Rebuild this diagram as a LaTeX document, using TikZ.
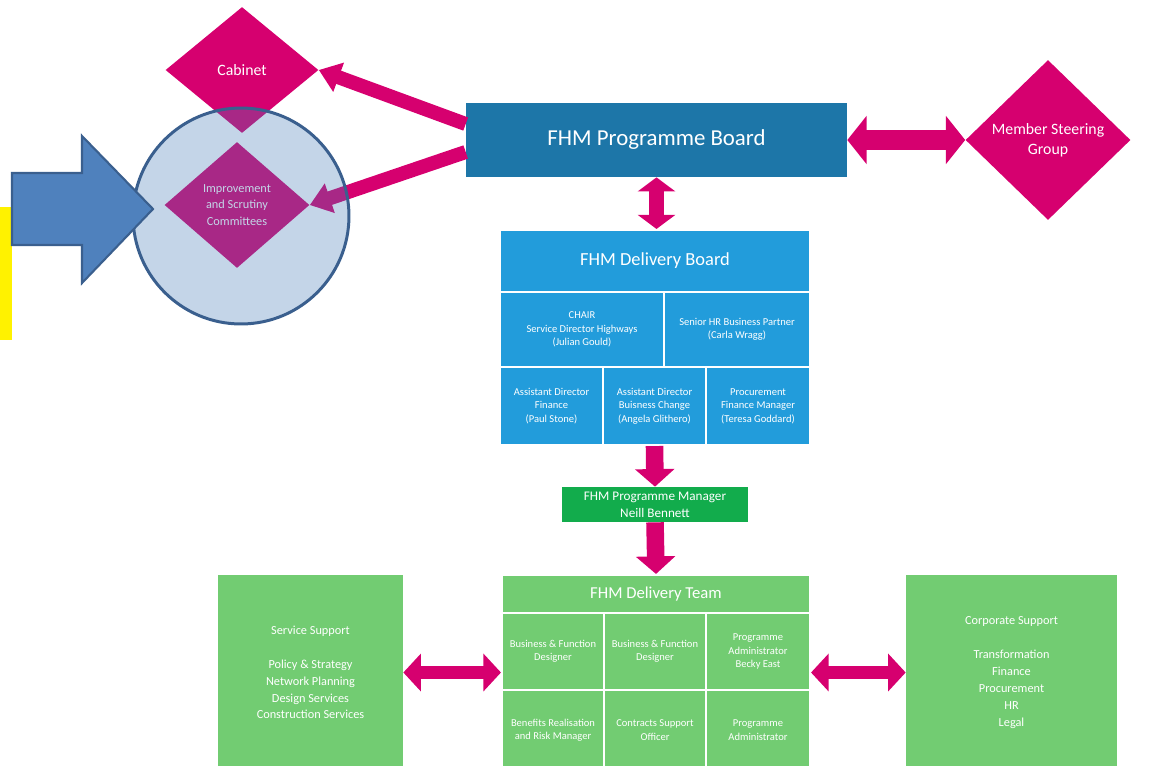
\documentclass[tikz,border=0pt]{standalone}
\usepackage{fontspec}
\setmainfont{Carlito}
\usetikzlibrary{shapes.geometric,arrows.meta}

\definecolor{fhmpink}{HTML}{D6006F}
\definecolor{progblue}{HTML}{1D76A8}
\definecolor{delblue}{HTML}{229CDB}
\definecolor{pmgreen}{HTML}{12AC4C}
\definecolor{teamgreen}{HTML}{72CC72}
\definecolor{ringfill}{HTML}{487DB8}
\definecolor{ringline}{HTML}{3A5F8E}
\definecolor{pointblue}{HTML}{4F81BD}

\begin{document}
\begin{tikzpicture}[x=0.02cm, y=-0.02cm,
    every node/.style={text=white, align=center, inner sep=1pt},
    board/.style={rectangle, fill=progblue, minimum width=7.62cm, minimum height=1.48cm, font=\fontsize{13}{15}\selectfont},
    rhombus/.style={diamond, fill=fhmpink, inner sep=0pt},
    dcell/.style={rectangle, fill=delblue, draw=white, line width=1.2pt, font=\fontsize{6}{7.6}\selectfont},
    tcell/.style={rectangle, fill=teamgreen, draw=white, line width=1.2pt, font=\fontsize{6}{7.6}\selectfont},
    support/.style={rectangle, fill=teamgreen, minimum height=3.9cm, font=\fontsize{7}{9.6}\selectfont},
    oneway/.style={draw=fhmpink, line width=8pt, -{Triangle[length=12pt, width=17pt]}},
    downway/.style={draw=fhmpink, line width=10pt, -{Triangle[length=10pt, width=22pt]}},
    twoway/.style={draw=fhmpink, line width=7pt, {Triangle[length=10pt, width=21pt]}-{Triangle[length=10pt, width=21pt]}}]
    \clip (0,0) rectangle (1158,765);

    % left hand side: cabinet and scrutiny
    \fill[yellow] (0,207) rectangle (12,340);
    \node (cabinet) [rhombus, minimum width=3.06cm, minimum height=2.52cm, font=\fontsize{9}{11}\selectfont] at (242,70) {Cabinet};
    \node (scrutiny) [rhombus, minimum width=2.9cm, minimum height=2.52cm, font=\fontsize{7}{9.6}\selectfont] at (237,205) {Improvement\\and Scrutiny\\Committees};

    % programme board
    \node (progboard) [board] at (656.5,140) {FHM Programme Board};
    \node (steering) [rhombus, minimum width=3.3cm, minimum height=3.2cm, font=\fontsize{9}{11.3}\selectfont] at (1048,140) {Member Steering\\Group};

    \draw[oneway] ([yshift=0.32cm]progboard.west) -- (cabinet.east);
    \draw[oneway] ([yshift=-0.24cm]progboard.west) -- (scrutiny.east);
    \draw[twoway, line width=11pt, {Triangle[length=11pt, width=27pt]}-{Triangle[length=11pt, width=27pt]}] (progboard.east) -- (steering.west);

    % highlight ring and pointer
    \node (ring) [circle, fill=ringfill, fill opacity=0.32, draw=ringline, draw opacity=1, line width=1.7pt, minimum size=4.32cm] at (241,216) {};
    \draw[fill=pointblue, draw=ringline, line width=1.2pt] (12,173) -- (82,173) -- (82,136) -- (153,209) -- (82,283) -- (82,245) -- (12,245) -- cycle;

    % delivery board
    \node (dbtitle) [dcell, minimum width=6.2cm, minimum height=1.24cm, font=\fontsize{10.5}{12}\selectfont] at (655,261) {FHM Delivery Board};
    \node (dbchair) [dcell, minimum width=3.28cm, minimum height=1.5cm] at (582,329.5) {CHAIR\\Service Director Highways\\(Julian Gould)};
    \node (dbhr) [dcell, minimum width=2.92cm, minimum height=1.5cm] at (737,329.5) {Senior HR Business Partner\\(Carla Wragg)};
    \node (dbfin) [dcell, minimum width=2.06cm, minimum height=1.56cm] at (551.5,406) {Assistant Director\\Finance\\(Paul Stone)};
    \node (dbchange) [dcell, minimum width=2.06cm, minimum height=1.56cm] at (654.5,406) {Assistant Director\\Buisness Change\\(Angela Glithero)};
    \node (dbproc) [dcell, minimum width=2.08cm, minimum height=1.56cm] at (758,406) {Procurement\\Finance Manager\\(Teresa Goddard)};

    \draw[twoway, line width=8.5pt, {Triangle[length=8pt, width=21pt]}-{Triangle[length=8pt, width=21pt]}] (progboard.south) -- (progboard.south |- dbtitle.north);

    % programme manager
    \node (progmgr) [rectangle, fill=pmgreen, minimum width=3.72cm, minimum height=0.7cm, font=\fontsize{7.5}{9.6}\selectfont] at (655,504.5) {FHM Programme Manager\\Neill Bennett};
    \draw[downway] (dbchange.south) -- (progmgr.north);

    % delivery team
    \node (dttitle) [tcell, minimum width=6.16cm, minimum height=0.76cm, font=\fontsize{9.5}{11}\selectfont] at (656,594) {FHM Delivery Team};
    \node (dtdesignA) [tcell, minimum width=2.04cm, minimum height=1.54cm] at (553,651.5) {Business \& Function\\Designer};
    \node (dtdesignB) [tcell, minimum width=2.04cm, minimum height=1.54cm] at (655,651.5) {Business \& Function\\Designer};
    \node (dtadminA) [tcell, minimum width=2.08cm, minimum height=1.54cm] at (758,651.5) {Programme\\Administrator\\Becky East};
    \node (dtbenefits) [tcell, minimum width=2.04cm, minimum height=1.6cm] at (553,730) {Benefits Realisation\\and Risk Manager};
    \node (dtcontracts) [tcell, minimum width=2.04cm, minimum height=1.6cm] at (655,730) {Contracts Support\\Officer};
    \node (dtadminB) [tcell, minimum width=2.08cm, minimum height=1.6cm] at (758,730) {Programme\\Administrator};
    \draw[downway] (progmgr.south) -- (dttitle.north);

    % support boxes
    \node (service) [support, minimum width=3.7cm] at (310.5,672.5) {Service Support\\[9.6pt]Policy \& Strategy\\Network Planning\\Design Services\\Construction Services};
    \node (corporate) [support, minimum width=4.22cm] at (1011.5,672.5) {Corporate Support\\[9.6pt]Transformation\\Finance\\Procurement\\HR\\Legal};

    \draw[twoway] (service.east) -- (service.east -| dtdesignA.west);
    \draw[twoway] (dtadminA.east |- corporate.west) -- (corporate.west);
\end{tikzpicture}
\end{document}
